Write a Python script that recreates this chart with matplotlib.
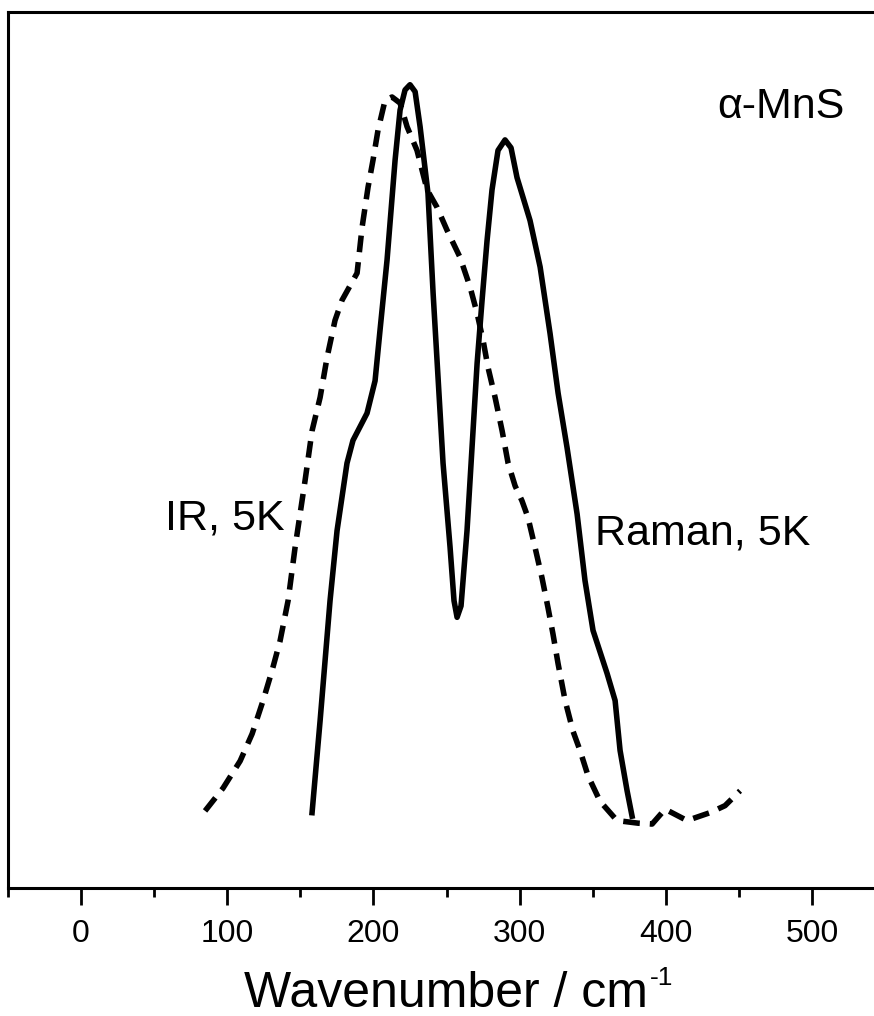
import numpy as np
import matplotlib
matplotlib.use("Agg")
import matplotlib.pyplot as plt

# Raman spectrum, 5K (solid)
raman_x = [158.0, 163.5, 170.3, 175.1, 181.9, 186.0, 195.6, 201.1, 204.5, 209.3,
           214.8, 218.2, 221.6, 225.0, 228.5, 231.9, 237.3, 240.8, 243.5, 247.6,
           252.4, 255.1, 257.2, 259.9, 264.0, 270.9, 274.3, 277.7, 281.1, 285.2,
           290.0, 294.1, 298.2, 307.1, 314.0, 320.8, 326.3, 332.4, 339.3, 344.7,
           350.2, 359.8, 365.3, 368.7, 373.5, 376.9]
raman_y = [8.6, 19.1, 32.8, 40.8, 48.5, 51.1, 54.2, 57.9, 63.7, 71.7,
           83.1, 88.8, 91.1, 91.7, 90.9, 86.9, 79.3, 67.9, 60.2, 48.5,
           38.9, 32.8, 30.9, 32.2, 40.8, 59.9, 67.1, 73.9, 79.7, 84.2,
           85.4, 84.5, 81.1, 76.2, 70.9, 63.3, 56.5, 50.3, 42.7, 35.1,
           29.4, 24.5, 21.4, 15.7, 11.1, 8.2]

# IR spectrum, 5K (dashed)
ir_x = [84.8, 97.1, 108.8, 117.0, 124.5, 130.6, 136.1, 141.6, 146.4, 153.2,
        158.0, 163.5, 168.3, 173.7, 178.5, 188.8, 192.2, 196.3, 199.7, 203.1,
        207.9, 212.7, 218.2, 223.0, 229.8, 236.7, 243.5, 250.3, 259.2, 266.1,
        270.9, 275.0, 278.4, 283.2, 288.0, 292.1, 296.9, 301.6, 305.7, 310.5,
        315.3, 319.4, 322.8, 326.3, 331.1, 336.5, 341.3, 346.8, 355.0, 366.6,
        381.0, 390.6, 399.5, 414.5, 430.2, 440.5, 450.8]
ir_y = [8.8, 11.4, 14.5, 17.6, 21.4, 24.8, 28.2, 32.8, 38.9, 46.5,
        52.2, 56.0, 60.6, 64.8, 67.1, 70.2, 75.4, 80.0, 83.1, 86.5,
        89.9, 90.3, 89.6, 86.9, 84.2, 79.7, 77.7, 75.1, 72.0, 68.6,
        65.6, 62.5, 59.4, 56.0, 52.2, 48.5, 45.9, 44.2, 42.3, 38.9,
        35.4, 32.0, 29.0, 25.6, 21.4, 17.9, 15.7, 12.8, 9.9, 7.7,
        7.4, 7.3, 9.0, 7.7, 8.6, 9.4, 11.1]

xticks = [0, 100, 200, 300, 400, 500]

plt.rcParams['font.family'] = ['Liberation Sans', 'DejaVu Sans']

fig = plt.figure(figsize=(8.74, 10.16), dpi=100)
ax = fig.add_axes([8/874, 128/1016, 1 - 8/874, 876/1016])

ax.plot(raman_x, raman_y, color='black', linewidth=4, solid_joinstyle='round')
ax.plot(ir_x, ir_y, color='black', linewidth=4, linestyle=(0, (3.0, 1.8)))

ax.set_xlim(-50, 542.4)
ax.set_ylim(0, 100)
ax.spines['right'].set_visible(False)
for s in ['left', 'top', 'bottom']:
    ax.spines[s].set_linewidth(2.2)

ax.set_yticks([])
ax.set_xticks(xticks)
ax.set_xticks(np.arange(-50, 550, 50), minor=True)
ax.tick_params(axis='x', which='major', direction='out', length=12, width=2,
               labelsize=23, pad=10)
ax.tick_params(axis='x', which='minor', direction='out', length=6.5, width=2)

ax.text(139.5, 42.2, 'IR, 5K', fontsize=31, ha='right', va='center')
ax.text(351.6, 40.5, 'Raman, 5K', fontsize=31, ha='left', va='center')
ax.text(522.6, 89.2, '\u03b1-MnS', fontsize=31, ha='right', va='center')

fig.text(0.510, 0.009, 'Wavenumber / cm', fontsize=36, ha='center', va='baseline')
fig.text(0.744, 0.031, '-1', fontsize=19, ha='left', va='baseline')

fig.savefig('out.png', dpi=100)
